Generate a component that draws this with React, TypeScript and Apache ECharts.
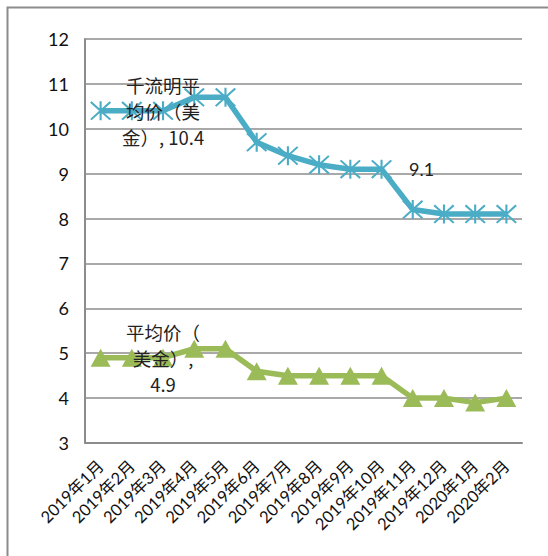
import React, { useEffect, useRef } from "react";
import * as echarts from "echarts";

const categories = [
  "2019年1月", "2019年2月", "2019年3月", "2019年4月", "2019年5月", "2019年6月", "2019年7月",
  "2019年8月", "2019年9月", "2019年10月", "2019年11月", "2019年12月", "2020年1月", "2020年2月",
];
const klmPrice = [10.4, 10.4, 10.4, 10.7, 10.7, 9.7, 9.4, 9.2, 9.1, 9.1, 8.2, 8.1, 8.1, 8.1];
const avgPrice = [4.9, 4.9, 4.9, 5.1, 5.1, 4.6, 4.5, 4.5, 4.5, 4.5, 4.0, 4.0, 3.9, 4.0];
const seriesNames = ["千流明平均价（美金）", "平均价（美金）"];
const yTicks = { min: 3, max: 12, interval: 1 };

const ASTERISK =
  "path://M9 0 L11 0 L11 20 L9 20 Z M0 1.4 L1.4 0 L20 18.6 L18.6 20 Z M18.6 0 L20 1.4 L1.4 20 L0 18.6 Z";

const NUM_FONT = "Lato, 'Noto Sans CJK SC', sans-serif";
const CJK_FONT = "'Noto Sans CJK SC', Lato, sans-serif";

export default function App() {
  const ref = useRef<HTMLDivElement>(null);
  useEffect(() => {
    if (!ref.current) return;
    const chart = echarts.init(ref.current, null, { renderer: "svg" });
    const centerLabel = (text: string) => ({
      show: true,
      position: "inside",
      formatter: text,
      color: "#222",
      fontSize: 18.5,
      lineHeight: 26,
      fontFamily: CJK_FONT,
      align: "center",
    });
    const klmData = klmPrice.map((v, i) => {
      if (i === 2) return { value: v, label: centerLabel("千流明平\n均价（美\n金）, " + v) };
      if (i === 9)
        return {
          value: v,
          label: {
            show: true,
            position: "right",
            distance: 17,
            formatter: String(v),
            color: "#222",
            fontSize: 18,
            fontFamily: NUM_FONT,
          },
        };
      return v;
    });
    const avgData = avgPrice.map((v, i) => {
      if (i === 2) return { value: v, label: centerLabel("平均价（\n美金）,\n" + v) };
      return v;
    });
    chart.setOption({
      animation: false,
      backgroundColor: "#fff",
      graphic: [
        {
          type: "rect",
          shape: { x: 7.5, y: 7.5, width: 600, height: 600 },
          style: { fill: "none", stroke: "#8c8c8c", lineWidth: 2 },
          silent: true,
        },
      ],
      grid: { left: 85, top: 39, right: 26, bottom: 113 },
      xAxis: {
        type: "category",
        data: categories,
        boundaryGap: true,
        axisLine: { show: true, lineStyle: { color: "#8c8c8c", width: 2 } },
        axisTick: { show: false },
        axisLabel: {
          rotate: 45,
          interval: 0,
          color: "#111",
          fontSize: 16.5,
          fontFamily: NUM_FONT,
          margin: 20,
        },
      },
      yAxis: {
        type: "value",
        min: yTicks.min,
        max: yTicks.max,
        interval: yTicks.interval,
        axisLine: { show: true, lineStyle: { color: "#8c8c8c", width: 2 } },
        axisTick: { show: false },
        splitLine: { lineStyle: { color: "#8c8c8c", width: 1.5 } },
        axisLabel: { color: "#111", fontSize: 18, fontFamily: NUM_FONT, margin: 16 },
      },
      series: [
        {
          name: seriesNames[0],
          type: "line",
          data: klmData,
          symbol: ASTERISK,
          symbolSize: [21, 19],
          showAllSymbol: true,
          lineStyle: { color: "#4BACC6", width: 5.5 },
          itemStyle: { color: "#4BACC6" },
        },
        {
          name: seriesNames[1],
          type: "line",
          data: avgData,
          symbol: "triangle",
          symbolSize: [20, 18],
          showAllSymbol: true,
          lineStyle: { color: "#9BBB59", width: 5.5 },
          itemStyle: { color: "#9BBB59" },
        },
      ],
    });
    return () => chart.dispose();
  }, []);
  return <div ref={ref} style={{ width: 548, height: 556, position: "absolute", left: 0, top: 0 }} />;
}
